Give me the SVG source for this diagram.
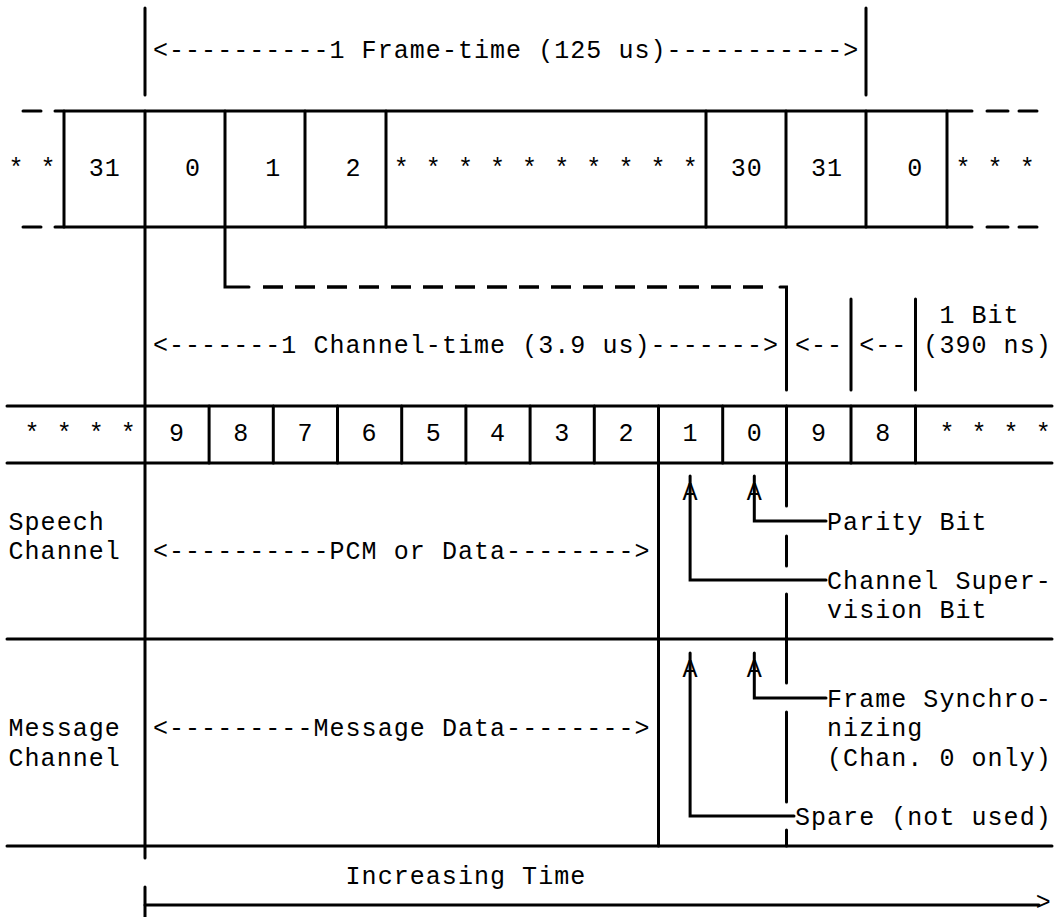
<svg xmlns="http://www.w3.org/2000/svg" width="1055" height="917" viewBox="0 0 1055 917">
<style>
  .bg { fill: #ffffff; }
  text { font-family: "Liberation Mono", "DejaVu Sans Mono", monospace; font-size: 25px; fill: #000000; }
  .s { letter-spacing: 1.05px; }
  .c { text-anchor: middle; }
  .ln { stroke: #000000; stroke-width: 3; fill: none; stroke-linecap: round; }
  .dash { stroke: #000000; stroke-width: 3.5; fill: none; stroke-dasharray: 20 12; }
</style>
<rect class="bg" x="0" y="0" width="1055" height="917"/>

<g id="frame-time">
  <line class="ln" x1="145" y1="8" x2="145" y2="95"/>
  <line class="ln" x1="866" y1="8" x2="866" y2="95"/>
  <text class="s" x="152.95" y="57.5">&lt;----------1 Frame-time (125 us)-----------&gt;</text>
</g>

<g id="frame-row">
  <line class="ln" x1="23" y1="111" x2="41" y2="111"/>
  <line class="ln" x1="55" y1="111" x2="972" y2="111"/>
  <line class="ln" x1="987" y1="111" x2="1008" y2="111"/>
  <line class="ln" x1="1019" y1="111" x2="1037" y2="111"/>
  <line class="ln" x1="23" y1="227" x2="41" y2="227"/>
  <line class="ln" x1="55" y1="227" x2="972" y2="227"/>
  <line class="ln" x1="987" y1="227" x2="1008" y2="227"/>
  <line class="ln" x1="1019" y1="227" x2="1037" y2="227"/>
  <line class="ln" x1="64" y1="111" x2="64" y2="227"/>
  <line class="ln" x1="305" y1="111" x2="305" y2="227"/>
  <line class="ln" x1="386" y1="111" x2="386" y2="227"/>
  <line class="ln" x1="706" y1="111" x2="706" y2="227"/>
  <line class="ln" x1="786" y1="111" x2="786" y2="227"/>
  <line class="ln" x1="866" y1="111" x2="866" y2="227"/>
  <line class="ln" x1="947" y1="111" x2="947" y2="227"/>
  <text class="s" x="8.5" y="175.5">* *</text>
  <text class="s" x="88.75" y="175.5">31</text>
  <text class="c" x="192.55" y="175.5">0</text>
  <text class="c" x="272.8" y="175.5">1</text>
  <text class="c" x="353.05" y="175.5">2</text>
  <text class="s" x="393.7" y="175.5">* * * * * * * * * *</text>
  <text class="s" x="730.75" y="175.5">30</text>
  <text class="s" x="811" y="175.5">31</text>
  <text class="c" x="914.8" y="175.5">0</text>
  <text class="s" x="955.45" y="175.5">* * *</text>
</g>

<g id="channel-time">
  <line class="ln" x1="851" y1="299" x2="851" y2="390"/>
  <line class="ln" x1="915.5" y1="299" x2="915.5" y2="390"/>
  <text class="s" x="152.95" y="352.5">&lt;-------1 Channel-time (3.9 us)-------&gt;</text>
  <text class="s" x="794.95" y="352.5">&lt;--</text>
  <text class="s" x="859.15" y="352.5">&lt;--</text>
  <text class="s" x="939.4" y="323">1 Bit</text>
  <text class="s" x="923.35" y="352.5">(390 ns)</text>
</g>

<g id="bit-row">
  <line class="ln" x1="7" y1="406" x2="1052" y2="406"/>
  <line class="ln" x1="7" y1="463" x2="1052" y2="463"/>
  <line class="ln" x1="209.1" y1="406" x2="209.1" y2="463"/>
  <line class="ln" x1="273.3" y1="406" x2="273.3" y2="463"/>
  <line class="ln" x1="337.5" y1="406" x2="337.5" y2="463"/>
  <line class="ln" x1="401.7" y1="406" x2="401.7" y2="463"/>
  <line class="ln" x1="465.9" y1="406" x2="465.9" y2="463"/>
  <line class="ln" x1="530.1" y1="406" x2="530.1" y2="463"/>
  <line class="ln" x1="594.3" y1="406" x2="594.3" y2="463"/>
  <line class="ln" x1="722.7" y1="406" x2="722.7" y2="463"/>
  <line class="ln" x1="851" y1="406" x2="851" y2="463"/>
  <line class="ln" x1="915.5" y1="406" x2="915.5" y2="463"/>
  <text class="s" x="24.55" y="441">* * * *</text>
  <text class="c" x="176.5" y="441">9</text>
  <text class="c" x="240.7" y="441">8</text>
  <text class="c" x="304.9" y="441">7</text>
  <text class="c" x="369.1" y="441">6</text>
  <text class="c" x="433.3" y="441">5</text>
  <text class="c" x="497.5" y="441">4</text>
  <text class="c" x="561.7" y="441">3</text>
  <text class="c" x="625.9" y="441">2</text>
  <text class="c" x="690.1" y="441">1</text>
  <text class="c" x="754.3" y="441">0</text>
  <text class="c" x="818.5" y="441">9</text>
  <text class="c" x="882.7" y="441">8</text>
  <text class="s" x="939.4" y="441">* * * *</text>
</g>

<g id="speech-channel">
  <line class="ln" x1="7" y1="639" x2="1052" y2="639"/>
  <text class="s" x="8.5" y="529.5">Speech</text>
  <text class="s" x="8.5" y="559">Channel</text>
  <text class="s" x="152.95" y="559">&lt;----------PCM or Data--------&gt;</text>
  <text class="c" x="690.1" y="500">A</text>
  <text class="c" x="754.3" y="500">A</text>
  <text class="s" x="827.05" y="529.5">Parity Bit</text>
  <text class="s" x="827.05" y="588.5">Channel Super-</text>
  <text class="s" x="827.05" y="618">vision Bit</text>
</g>

<g id="message-channel">
  <line class="ln" x1="7" y1="846" x2="1052" y2="846"/>
  <text class="s" x="8.5" y="736">Message</text>
  <text class="s" x="8.5" y="765.5">Channel</text>
  <text class="s" x="152.95" y="736">&lt;---------Message Data--------&gt;</text>
  <text class="c" x="690.1" y="677">A</text>
  <text class="c" x="754.3" y="677">A</text>
  <text class="s" x="827.05" y="706.5">Frame Synchro-</text>
  <text class="s" x="827.05" y="736">nizing</text>
  <text class="s" x="827.05" y="765.5">(Chan. 0 only)</text>
  <text class="s" x="794.95" y="824.5">Spare (not used)</text>
</g>

<g id="time-axis">
  <text class="s" x="345.55" y="883.5">Increasing Time</text>
  <line class="ln" x1="145" y1="887" x2="145" y2="917"/>
  <line class="ln" x1="145" y1="905" x2="1039" y2="905"/>
  <text class="c" x="1043.2" y="910">&gt;</text>
</g>

<g id="connectors">
  <line class="ln" x1="145" y1="111" x2="145" y2="858"/>
  <line class="ln" x1="658.5" y1="406" x2="658.5" y2="846"/>
  <path class="ln" d="M225,111 V287 H249"/>
  <line class="dash" x1="263" y1="287" x2="763" y2="287"/>
  <path class="ln" d="M780,287 H786.5 V390"/>
  <line class="ln" x1="786.5" y1="406" x2="786.5" y2="506"/>
  <line class="ln" x1="786.5" y1="536" x2="786.5" y2="566"/>
  <line class="ln" x1="786.5" y1="594" x2="786.5" y2="683"/>
  <line class="ln" x1="786.5" y1="712" x2="786.5" y2="802"/>
  <line class="ln" x1="786.5" y1="830" x2="786.5" y2="846"/>
  <path class="ln" d="M754.3,476 V521 H826"/>
  <path class="ln" d="M690.1,476 V580 H826"/>
  <path class="ln" d="M754.3,653 V698 H826"/>
  <path class="ln" d="M690.1,653 V816 H794"/>
</g>
</svg>
